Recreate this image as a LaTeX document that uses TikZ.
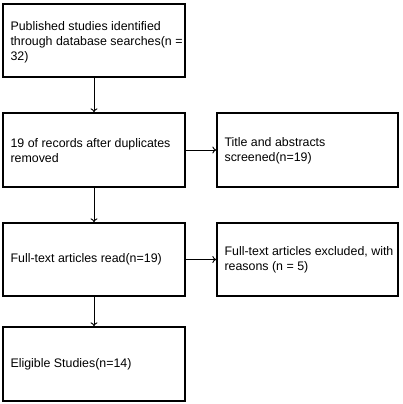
\documentclass[tikz,border=0pt]{standalone}
\usepackage{fontspec}
\setmainfont{Liberation Sans}
\usetikzlibrary{arrows.meta}
\begin{document}
\begin{tikzpicture}[x=1pt,y=-1pt,
  box/.style={draw, line width=1.3pt, minimum width=182pt, inner sep=0pt},
  txt/.style={anchor=west, inner sep=0pt, align=left, font=\fontsize{12.4pt}{15pt}\selectfont},
  arr/.style={line width=0.9pt, -{To[length=4pt,width=7pt]}}]
\useasboundingbox (0,0) rectangle (402,404);
\node[box, minimum height=73pt] (b1) at (94,40.5) {};
\node[box, minimum height=74pt] (b2) at (94,150) {};
\node[box, minimum height=74pt, minimum width=181pt] (b3) at (307.5,150) {};
\node[box, minimum height=73pt] (b4) at (94,259.5) {};
\node[box, minimum height=73pt, minimum width=181pt] (b5) at (307.5,259.5) {};
\node[box, minimum height=74pt] (b6) at (94,364) {};
\node[txt] (t1) at ([xshift=8pt,yshift=-1.5pt]b1.west) {Published studies identified\\through database searches(n =\\32)};
\node[txt] (t2) at ([xshift=8pt,yshift=-1pt]b2.west) {19 of records after duplicates\\removed};
\node[txt] (t3) at ([xshift=8pt,yshift=-1pt]b3.west) {Title and abstracts\\screened(n=19)};
\node[txt] (t4) at ([xshift=8pt]b4.west) {Full-text articles read(n=19)};
\node[txt] (t5) at ([xshift=8pt]b5.west) {Full-text articles excluded, with\\reasons (n = 5)};
\node[txt] (t6) at ([xshift=8pt]b6.west) {Eligible Studies(n=14)};
\draw[arr] (b1) -- (b2);
\draw[arr] (b2) -- (b4);
\draw[arr] (b4) -- (b6);
\draw[arr] (b2) -- (b3);
\draw[arr] (b4) -- (b5);
\end{tikzpicture}
\end{document}
